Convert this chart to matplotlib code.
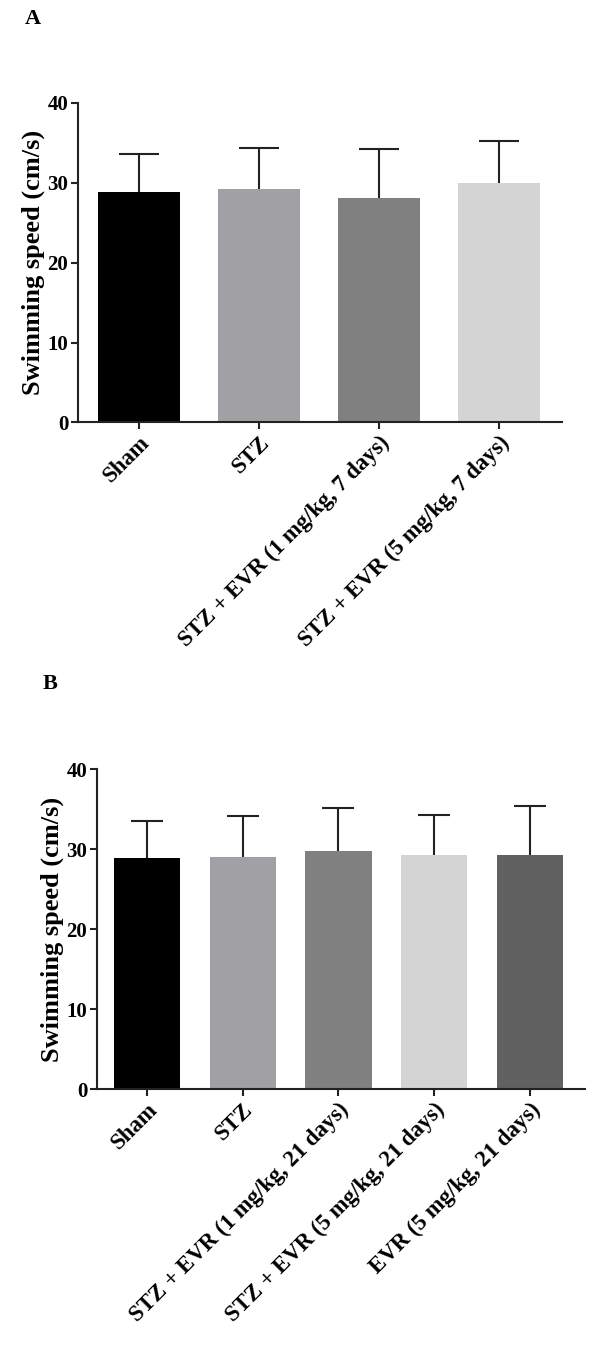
import matplotlib.pyplot as plt
import numpy as np

plt.rcParams['font.family'] = ['Liberation Serif', 'DejaVu Serif']
plt.rcParams['font.weight'] = 'bold'

# Panel A (7 days)
grupy_a = ["Sham", "STZ", "STZ + EVR (1 mg/kg, 7 days)", "STZ + EVR (5 mg/kg, 7 days)"]
srednie_a = [28.85, 29.2, 28.1, 30.0]
sd_a = [4.75, 5.2, 6.1, 5.2]
kolory_a = ["#000000", "#a1a1a5", "#808080", "#d4d4d4"]

# Panel B (21 days)
grupy_b = ["Sham", "STZ", "STZ + EVR (1 mg/kg, 21 days)",
           "STZ + EVR (5 mg/kg, 21 days)", "EVR (5 mg/kg, 21 days)"]
srednie_b = [28.9, 29.0, 29.75, 29.3, 29.25]
sd_b = [4.6, 5.2, 5.45, 5.0, 6.15]
kolory_b = ["#000000", "#a1a1a5", "#808080", "#d4d4d4", "#616161"]

fig = plt.figure(figsize=(6.06, 13.58), dpi=100)

def rysuj_panel(ax, grupy, srednie, sd, kolory, szer, cap, xlim):
    x = np.arange(len(grupy))
    # slupki bledu symetryczne, dolna czesc schowana pod slupkiem
    ax.errorbar(x, srednie, yerr=sd, fmt='none', ecolor='#222222',
                elinewidth=1.5, capsize=cap, capthick=1.5, zorder=1)
    ax.bar(x, srednie, width=szer, color=kolory, zorder=2)
    ax.set_ylim(0, 40)
    ax.set_xlim(*xlim)
    ax.set_yticks([0, 10, 20, 30, 40])
    ax.set_xticks(x)
    ax.set_xticklabels(grupy, rotation=45, ha='right', rotation_mode='anchor',
                       fontsize=16.5, fontweight='bold')
    for lab in ax.get_yticklabels():
        lab.set_fontsize(15)
        lab.set_fontweight('bold')
    ax.set_ylabel("Swimming speed (cm/s)", fontsize=19, fontweight='bold', labelpad=2)
    ax.spines['top'].set_visible(False)
    ax.spines['right'].set_visible(False)
    ax.spines['left'].set_linewidth(1.5)
    ax.spines['bottom'].set_linewidth(1.5)
    ax.spines['left'].set_color('#222222')
    ax.spines['bottom'].set_color('#222222')
    ax.tick_params(axis='both', width=1.5, length=5, pad=2, color='#222222')

ax_a = fig.add_axes([0.1287, 0.6889, 0.799, 0.2353])
rysuj_panel(ax_a, grupy_a, srednie_a, sd_a, kolory_a, 0.685, 14.4, (-0.51, 3.53))

ax_b = fig.add_axes([0.160, 0.198, 0.805, 0.2356])
rysuj_panel(ax_b, grupy_b, srednie_b, sd_b, kolory_b, 0.69, 11.5, (-0.52, 4.57))

fig.text(25 / 606, 1 - 19.5 / 1358, "A", fontsize=16, fontweight='bold', va='center')
fig.text(43 / 606, 1 - 684 / 1358, "B", fontsize=16, fontweight='bold', va='center')

fig.savefig("out.png", dpi=100)
